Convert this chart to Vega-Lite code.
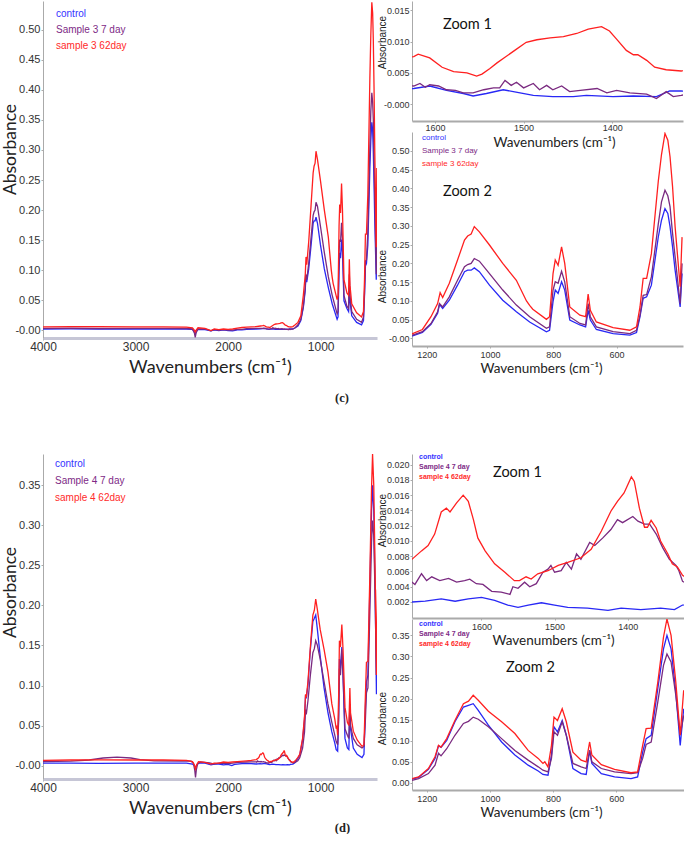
{
  "$schema": "https://vega.github.io/schema/vega-lite/v6.json",
  "background": "white",
  "padding": {"left": 1, "top": 1, "right": 0, "bottom": 0},
  "spacing": 48,
  "config": {
    "view": {"stroke": null},
    "axis": {"grid": false, "labelFont": "Liberation Sans", "labelColor": "#333", "domainColor": "#aaa", "tickColor": "#aaa", "tickSize": 2, "labelFlush": false, "labelOverlap": false, "labelBound": false, "titleFontWeight": "normal", "titleColor": "#222"},
    "legend": {"title": null, "orient": "none", "symbolSize": 0, "symbolOpacity": 0, "symbolStrokeWidth": 0, "labelOffset": 0, "padding": 0, "labelFont": "Liberation Sans", "labelLimit": 300,
               "labelColor": {"expr": "indexof(datum.label, 'control') >= 0 ? '#3333ff' : (indexof(datum.label, '62') >= 0 ? '#ff2a2a' : '#7e2a86')"}},
    "line": {"strokeWidth": 1.3, "clip": true}
  },
  "datasets": {
    "setC": [
      {"wn":4000,"abs":0.002,"series":"control"},{"wn":3700,"abs":0.0022,"series":"control"},{"wn":3400,"abs":0.0018,"series":"control"},{"wn":3000,"abs":0.002,"series":"control"},{"wn":2700,"abs":0.002,"series":"control"},{"wn":2450,"abs":0.0018,"series":"control"},{"wn":2385,"abs":0.0012,"series":"control"},{"wn":2365,"abs":-0.003,"series":"control"},{"wn":2355,"abs":-0.006,"series":"control"},{"wn":2345,"abs":-0.002,"series":"control"},{"wn":2325,"abs":0.0015,"series":"control"},{"wn":2250,"abs":0.001,"series":"control"},{"wn":2185,"abs":-0.001,"series":"control"},{"wn":2150,"abs":0.0005,"series":"control"},{"wn":2100,"abs":-0.0005,"series":"control"},{"wn":2050,"abs":0.0005,"series":"control"},{"wn":2000,"abs":-0.0005,"series":"control"},{"wn":1950,"abs":-0.001,"series":"control"},{"wn":1900,"abs":0.0005,"series":"control"},{"wn":1850,"abs":0.0005,"series":"control"},{"wn":1800,"abs":0.0015,"series":"control"},{"wn":1700,"abs":0.002,"series":"control"},{"wn":1650,"abs":0.0022,"series":"control"},
      {"wn":1624,"abs":0.0025,"series":"control"},{"wn":1606,"abs":0.0029,"series":"control"},{"wn":1587,"abs":0.0022,"series":"control"},{"wn":1568,"abs":0.0017,"series":"control"},{"wn":1557,"abs":0.0013,"series":"control"},{"wn":1542,"abs":0.0017,"series":"control"},{"wn":1523,"abs":0.0023,"series":"control"},{"wn":1504,"abs":0.0018,"series":"control"},{"wn":1489,"abs":0.0014,"series":"control"},{"wn":1467,"abs":0.0012,"series":"control"},{"wn":1444,"abs":0.0012,"series":"control"},{"wn":1429,"abs":0.0014,"series":"control"},{"wn":1399,"abs":0.0012,"series":"control"},{"wn":1376,"abs":0.0013,"series":"control"},{"wn":1350,"abs":0.0012,"series":"control"},{"wn":1335,"abs":0.0021,"series":"control"},{"wn":1322,"abs":0.0021,"series":"control"},{"wn":1300,"abs":0.002,"series":"control"},{"wn":1275,"abs":0.004,"series":"control"},
      {"wn":1245,"abs":0.007,"series":"control"},{"wn":1214,"abs":0.016,"series":"control"},{"wn":1187,"abs":0.038,"series":"control"},{"wn":1166,"abs":0.067,"series":"control"},{"wn":1160,"abs":0.091,"series":"control"},{"wn":1150,"abs":0.08,"series":"control"},{"wn":1129,"abs":0.102,"series":"control"},{"wn":1103,"abs":0.142,"series":"control"},{"wn":1081,"abs":0.178,"series":"control"},{"wn":1071,"abs":0.182,"series":"control"},{"wn":1060,"abs":0.182,"series":"control"},{"wn":1050,"abs":0.188,"series":"control"},{"wn":1034,"abs":0.178,"series":"control"},{"wn":1002,"abs":0.142,"series":"control"},{"wn":960,"abs":0.102,"series":"control"},{"wn":917,"abs":0.071,"series":"control"},{"wn":875,"abs":0.044,"series":"control"},{"wn":822,"abs":0.018,"series":"control"},{"wn":812,"abs":0.022,"series":"control"},{"wn":801,"abs":0.098,"series":"control"},{"wn":794,"abs":0.129,"series":"control"},{"wn":785,"abs":0.12,"series":"control"},{"wn":774,"abs":0.151,"series":"control"},{"wn":764,"abs":0.129,"series":"control"},{"wn":748,"abs":0.049,"series":"control"},{"wn":716,"abs":0.036,"series":"control"},{"wn":698,"abs":0.031,"series":"control"},{"wn":690,"abs":0.075,"series":"control"},{"wn":683,"abs":0.049,"series":"control"},{"wn":664,"abs":0.024,"series":"control"},{"wn":611,"abs":0.013,"series":"control"},{"wn":558,"abs":0.009,"series":"control"},{"wn":537,"abs":0.016,"series":"control"},{"wn":526,"abs":0.058,"series":"control"},{"wn":516,"abs":0.107,"series":"control"},{"wn":505,"abs":0.111,"series":"control"},{"wn":490,"abs":0.142,"series":"control"},{"wn":468,"abs":0.271,"series":"control"},{"wn":458,"abs":0.315,"series":"control"},{"wn":447,"abs":0.346,"series":"control"},{"wn":438,"abs":0.333,"series":"control"},{"wn":431,"abs":0.298,"series":"control"},{"wn":423,"abs":0.244,"series":"control"},{"wn":415,"abs":0.182,"series":"control"},{"wn":399,"abs":0.084,"series":"control"},{"wn":393,"abs":0.173,"series":"control"},

      {"wn":4000,"abs":0.003,"series":"Sample 3 7 day"},{"wn":3700,"abs":0.0032,"series":"Sample 3 7 day"},{"wn":3400,"abs":0.0028,"series":"Sample 3 7 day"},{"wn":3000,"abs":0.003,"series":"Sample 3 7 day"},{"wn":2700,"abs":0.003,"series":"Sample 3 7 day"},{"wn":2450,"abs":0.0028,"series":"Sample 3 7 day"},{"wn":2385,"abs":0.002,"series":"Sample 3 7 day"},{"wn":2365,"abs":-0.004,"series":"Sample 3 7 day"},{"wn":2355,"abs":-0.012,"series":"Sample 3 7 day"},{"wn":2345,"abs":-0.004,"series":"Sample 3 7 day"},{"wn":2325,"abs":0.002,"series":"Sample 3 7 day"},{"wn":2250,"abs":0.002,"series":"Sample 3 7 day"},{"wn":2185,"abs":-0.001,"series":"Sample 3 7 day"},{"wn":2150,"abs":0.001,"series":"Sample 3 7 day"},{"wn":2100,"abs":0.0,"series":"Sample 3 7 day"},{"wn":2050,"abs":0.001,"series":"Sample 3 7 day"},{"wn":2000,"abs":0.0,"series":"Sample 3 7 day"},{"wn":1950,"abs":0.0,"series":"Sample 3 7 day"},{"wn":1900,"abs":0.0015,"series":"Sample 3 7 day"},{"wn":1850,"abs":0.0015,"series":"Sample 3 7 day"},{"wn":1800,"abs":0.0025,"series":"Sample 3 7 day"},{"wn":1700,"abs":0.003,"series":"Sample 3 7 day"},{"wn":1650,"abs":0.003,"series":"Sample 3 7 day"},
      {"wn":1624,"abs":0.0029,"series":"Sample 3 7 day"},{"wn":1617,"abs":0.0033,"series":"Sample 3 7 day"},{"wn":1611,"abs":0.0027,"series":"Sample 3 7 day"},{"wn":1606,"abs":0.0031,"series":"Sample 3 7 day"},{"wn":1596,"abs":0.0029,"series":"Sample 3 7 day"},{"wn":1587,"abs":0.0023,"series":"Sample 3 7 day"},{"wn":1577,"abs":0.0022,"series":"Sample 3 7 day"},{"wn":1568,"abs":0.0018,"series":"Sample 3 7 day"},{"wn":1557,"abs":0.0018,"series":"Sample 3 7 day"},{"wn":1545,"abs":0.0023,"series":"Sample 3 7 day"},{"wn":1534,"abs":0.0026,"series":"Sample 3 7 day"},{"wn":1527,"abs":0.0026,"series":"Sample 3 7 day"},{"wn":1521,"abs":0.0038,"series":"Sample 3 7 day"},{"wn":1514,"abs":0.003,"series":"Sample 3 7 day"},{"wn":1508,"abs":0.0035,"series":"Sample 3 7 day"},{"wn":1500,"abs":0.0026,"series":"Sample 3 7 day"},{"wn":1489,"abs":0.0033,"series":"Sample 3 7 day"},{"wn":1482,"abs":0.0023,"series":"Sample 3 7 day"},{"wn":1474,"abs":0.003,"series":"Sample 3 7 day"},{"wn":1467,"abs":0.0023,"series":"Sample 3 7 day"},{"wn":1457,"abs":0.0029,"series":"Sample 3 7 day"},{"wn":1448,"abs":0.002,"series":"Sample 3 7 day"},{"wn":1436,"abs":0.0022,"series":"Sample 3 7 day"},{"wn":1417,"abs":0.0025,"series":"Sample 3 7 day"},{"wn":1406,"abs":0.0018,"series":"Sample 3 7 day"},{"wn":1395,"abs":0.0022,"series":"Sample 3 7 day"},{"wn":1380,"abs":0.0018,"series":"Sample 3 7 day"},{"wn":1361,"abs":0.0016,"series":"Sample 3 7 day"},{"wn":1350,"abs":0.0009,"series":"Sample 3 7 day"},{"wn":1339,"abs":0.002,"series":"Sample 3 7 day"},{"wn":1331,"abs":0.0012,"series":"Sample 3 7 day"},{"wn":1322,"abs":0.0014,"series":"Sample 3 7 day"},{"wn":1300,"abs":0.002,"series":"Sample 3 7 day"},{"wn":1275,"abs":0.004,"series":"Sample 3 7 day"},
      {"wn":1245,"abs":0.009,"series":"Sample 3 7 day"},{"wn":1214,"abs":0.018,"series":"Sample 3 7 day"},{"wn":1187,"abs":0.04,"series":"Sample 3 7 day"},{"wn":1166,"abs":0.071,"series":"Sample 3 7 day"},{"wn":1160,"abs":0.093,"series":"Sample 3 7 day"},{"wn":1150,"abs":0.084,"series":"Sample 3 7 day"},{"wn":1129,"abs":0.111,"series":"Sample 3 7 day"},{"wn":1103,"abs":0.155,"series":"Sample 3 7 day"},{"wn":1081,"abs":0.191,"series":"Sample 3 7 day"},{"wn":1071,"abs":0.197,"series":"Sample 3 7 day"},{"wn":1060,"abs":0.2,"series":"Sample 3 7 day"},{"wn":1050,"abs":0.213,"series":"Sample 3 7 day"},{"wn":1034,"abs":0.206,"series":"Sample 3 7 day"},{"wn":1002,"abs":0.173,"series":"Sample 3 7 day"},{"wn":960,"abs":0.129,"series":"Sample 3 7 day"},{"wn":917,"abs":0.089,"series":"Sample 3 7 day"},{"wn":875,"abs":0.058,"series":"Sample 3 7 day"},{"wn":822,"abs":0.027,"series":"Sample 3 7 day"},{"wn":812,"abs":0.031,"series":"Sample 3 7 day"},{"wn":801,"abs":0.129,"series":"Sample 3 7 day"},{"wn":794,"abs":0.151,"series":"Sample 3 7 day"},{"wn":785,"abs":0.147,"series":"Sample 3 7 day"},{"wn":774,"abs":0.179,"series":"Sample 3 7 day"},{"wn":764,"abs":0.151,"series":"Sample 3 7 day"},{"wn":748,"abs":0.058,"series":"Sample 3 7 day"},{"wn":716,"abs":0.04,"series":"Sample 3 7 day"},{"wn":698,"abs":0.036,"series":"Sample 3 7 day"},{"wn":690,"abs":0.093,"series":"Sample 3 7 day"},{"wn":683,"abs":0.058,"series":"Sample 3 7 day"},{"wn":664,"abs":0.031,"series":"Sample 3 7 day"},{"wn":611,"abs":0.018,"series":"Sample 3 7 day"},{"wn":558,"abs":0.013,"series":"Sample 3 7 day"},{"wn":537,"abs":0.022,"series":"Sample 3 7 day"},{"wn":526,"abs":0.062,"series":"Sample 3 7 day"},{"wn":516,"abs":0.115,"series":"Sample 3 7 day"},{"wn":505,"abs":0.117,"series":"Sample 3 7 day"},{"wn":490,"abs":0.164,"series":"Sample 3 7 day"},{"wn":468,"abs":0.306,"series":"Sample 3 7 day"},{"wn":458,"abs":0.364,"series":"Sample 3 7 day"},{"wn":447,"abs":0.395,"series":"Sample 3 7 day"},{"wn":438,"abs":0.38,"series":"Sample 3 7 day"},{"wn":431,"abs":0.351,"series":"Sample 3 7 day"},{"wn":423,"abs":0.28,"series":"Sample 3 7 day"},{"wn":415,"abs":0.218,"series":"Sample 3 7 day"},{"wn":399,"abs":0.093,"series":"Sample 3 7 day"},{"wn":393,"abs":0.2,"series":"Sample 3 7 day"},

      {"wn":4000,"abs":0.0055,"series":"sample 3 62day"},{"wn":3700,"abs":0.006,"series":"sample 3 62day"},{"wn":3400,"abs":0.0058,"series":"sample 3 62day"},{"wn":3000,"abs":0.0055,"series":"sample 3 62day"},{"wn":2700,"abs":0.0055,"series":"sample 3 62day"},{"wn":2450,"abs":0.005,"series":"sample 3 62day"},{"wn":2385,"abs":0.004,"series":"sample 3 62day"},{"wn":2365,"abs":0.0,"series":"sample 3 62day"},{"wn":2355,"abs":-0.003,"series":"sample 3 62day"},{"wn":2345,"abs":0.0,"series":"sample 3 62day"},{"wn":2325,"abs":0.004,"series":"sample 3 62day"},{"wn":2250,"abs":0.003,"series":"sample 3 62day"},{"wn":2185,"abs":-0.0005,"series":"sample 3 62day"},{"wn":2150,"abs":0.002,"series":"sample 3 62day"},{"wn":2100,"abs":0.001,"series":"sample 3 62day"},{"wn":2050,"abs":0.002,"series":"sample 3 62day"},{"wn":2000,"abs":0.0015,"series":"sample 3 62day"},{"wn":1950,"abs":0.002,"series":"sample 3 62day"},{"wn":1900,"abs":0.0035,"series":"sample 3 62day"},{"wn":1850,"abs":0.0045,"series":"sample 3 62day"},{"wn":1800,"abs":0.005,"series":"sample 3 62day"},{"wn":1700,"abs":0.006,"series":"sample 3 62day"},{"wn":1650,"abs":0.007,"series":"sample 3 62day"},
      {"wn":1624,"abs":0.0076,"series":"sample 3 62day"},{"wn":1619,"abs":0.008,"series":"sample 3 62day"},{"wn":1606,"abs":0.0074,"series":"sample 3 62day"},{"wn":1592,"abs":0.0059,"series":"sample 3 62day"},{"wn":1579,"abs":0.0052,"series":"sample 3 62day"},{"wn":1564,"abs":0.005,"series":"sample 3 62day"},{"wn":1553,"abs":0.0045,"series":"sample 3 62day"},{"wn":1547,"abs":0.0048,"series":"sample 3 62day"},{"wn":1538,"abs":0.0057,"series":"sample 3 62day"},{"wn":1530,"abs":0.0066,"series":"sample 3 62day"},{"wn":1521,"abs":0.0075,"series":"sample 3 62day"},{"wn":1510,"abs":0.0086,"series":"sample 3 62day"},{"wn":1497,"abs":0.0099,"series":"sample 3 62day"},{"wn":1485,"abs":0.0103,"series":"sample 3 62day"},{"wn":1470,"abs":0.0106,"series":"sample 3 62day"},{"wn":1455,"abs":0.0108,"series":"sample 3 62day"},{"wn":1440,"abs":0.0113,"series":"sample 3 62day"},{"wn":1427,"abs":0.012,"series":"sample 3 62day"},{"wn":1412,"abs":0.0124,"series":"sample 3 62day"},{"wn":1403,"abs":0.0117,"series":"sample 3 62day"},{"wn":1395,"abs":0.0104,"series":"sample 3 62day"},{"wn":1384,"abs":0.0086,"series":"sample 3 62day"},{"wn":1376,"abs":0.0079,"series":"sample 3 62day"},{"wn":1371,"abs":0.0079,"series":"sample 3 62day"},{"wn":1361,"abs":0.007,"series":"sample 3 62day"},{"wn":1352,"abs":0.0059,"series":"sample 3 62day"},{"wn":1339,"abs":0.0055,"series":"sample 3 62day"},{"wn":1322,"abs":0.0053,"series":"sample 3 62day"},{"wn":1300,"abs":0.006,"series":"sample 3 62day"},{"wn":1275,"abs":0.009,"series":"sample 3 62day"},
      {"wn":1245,"abs":0.013,"series":"sample 3 62day"},{"wn":1214,"abs":0.024,"series":"sample 3 62day"},{"wn":1187,"abs":0.058,"series":"sample 3 62day"},{"wn":1166,"abs":0.093,"series":"sample 3 62day"},{"wn":1158,"abs":0.122,"series":"sample 3 62day"},{"wn":1150,"abs":0.109,"series":"sample 3 62day"},{"wn":1129,"abs":0.147,"series":"sample 3 62day"},{"wn":1103,"abs":0.209,"series":"sample 3 62day"},{"wn":1081,"abs":0.262,"series":"sample 3 62day"},{"wn":1071,"abs":0.273,"series":"sample 3 62day"},{"wn":1060,"abs":0.278,"series":"sample 3 62day"},{"wn":1050,"abs":0.298,"series":"sample 3 62day"},{"wn":1034,"abs":0.284,"series":"sample 3 62day"},{"wn":1002,"abs":0.249,"series":"sample 3 62day"},{"wn":960,"abs":0.2,"series":"sample 3 62day"},{"wn":917,"abs":0.155,"series":"sample 3 62day"},{"wn":885,"abs":0.1,"series":"sample 3 62day"},{"wn":875,"abs":0.088,"series":"sample 3 62day"},{"wn":865,"abs":0.078,"series":"sample 3 62day"},{"wn":822,"abs":0.051,"series":"sample 3 62day"},{"wn":812,"abs":0.058,"series":"sample 3 62day"},{"wn":801,"abs":0.173,"series":"sample 3 62day"},{"wn":794,"abs":0.209,"series":"sample 3 62day"},{"wn":785,"abs":0.195,"series":"sample 3 62day"},{"wn":774,"abs":0.244,"series":"sample 3 62day"},{"wn":764,"abs":0.2,"series":"sample 3 62day"},{"wn":748,"abs":0.084,"series":"sample 3 62day"},{"wn":716,"abs":0.062,"series":"sample 3 62day"},{"wn":698,"abs":0.058,"series":"sample 3 62day"},{"wn":690,"abs":0.118,"series":"sample 3 62day"},{"wn":683,"abs":0.075,"series":"sample 3 62day"},{"wn":664,"abs":0.044,"series":"sample 3 62day"},{"wn":611,"abs":0.029,"series":"sample 3 62day"},{"wn":558,"abs":0.022,"series":"sample 3 62day"},{"wn":537,"abs":0.031,"series":"sample 3 62day"},{"wn":526,"abs":0.084,"series":"sample 3 62day"},{"wn":516,"abs":0.16,"series":"sample 3 62day"},{"wn":505,"abs":0.16,"series":"sample 3 62day"},{"wn":490,"abs":0.226,"series":"sample 3 62day"},{"wn":468,"abs":0.42,"series":"sample 3 62day"},{"wn":458,"abs":0.49,"series":"sample 3 62day"},{"wn":447,"abs":0.546,"series":"sample 3 62day"},{"wn":438,"abs":0.528,"series":"sample 3 62day"},{"wn":431,"abs":0.484,"series":"sample 3 62day"},{"wn":423,"abs":0.404,"series":"sample 3 62day"},{"wn":415,"abs":0.298,"series":"sample 3 62day"},{"wn":399,"abs":0.138,"series":"sample 3 62day"},{"wn":393,"abs":0.27,"series":"sample 3 62day"}
    ],
    "setD": [
      {"wn":4000,"abs":0.003,"series":"control"},{"wn":3700,"abs":0.003,"series":"control"},{"wn":3400,"abs":0.0028,"series":"control"},{"wn":3000,"abs":0.003,"series":"control"},{"wn":2700,"abs":0.003,"series":"control"},{"wn":2450,"abs":0.003,"series":"control"},{"wn":2385,"abs":0.002,"series":"control"},{"wn":2365,"abs":0.0,"series":"control"},{"wn":2352,"abs":-0.002,"series":"control"},{"wn":2340,"abs":0.0,"series":"control"},{"wn":2320,"abs":0.003,"series":"control"},{"wn":2250,"abs":0.003,"series":"control"},{"wn":2185,"abs":0.001,"series":"control"},{"wn":2150,"abs":0.002,"series":"control"},{"wn":2100,"abs":0.002,"series":"control"},{"wn":2050,"abs":0.001,"series":"control"},{"wn":2000,"abs":0.0015,"series":"control"},{"wn":1960,"abs":0.0,"series":"control"},{"wn":1930,"abs":0.0015,"series":"control"},{"wn":1850,"abs":0.0025,"series":"control"},{"wn":1750,"abs":0.0025,"series":"control"},
      {"wn":1695,"abs":0.002,"series":"control"},{"wn":1677,"abs":0.0021,"series":"control"},{"wn":1655,"abs":0.0024,"series":"control"},{"wn":1636,"abs":0.0021,"series":"control"},{"wn":1618,"abs":0.0024,"series":"control"},{"wn":1600,"abs":0.0026,"series":"control"},{"wn":1582,"abs":0.0022,"series":"control"},{"wn":1564,"abs":0.0016,"series":"control"},{"wn":1550,"abs":0.0013,"series":"control"},{"wn":1536,"abs":0.0016,"series":"control"},{"wn":1518,"abs":0.0019,"series":"control"},{"wn":1500,"abs":0.0016,"series":"control"},{"wn":1482,"abs":0.0013,"series":"control"},{"wn":1455,"abs":0.0012,"series":"control"},{"wn":1427,"abs":0.0009,"series":"control"},{"wn":1409,"abs":0.0012,"series":"control"},{"wn":1382,"abs":0.001,"series":"control"},{"wn":1355,"abs":0.0012,"series":"control"},{"wn":1336,"abs":0.001,"series":"control"},{"wn":1325,"abs":0.0016,"series":"control"},{"wn":1300,"abs":0.002,"series":"control"},{"wn":1275,"abs":0.004,"series":"control"},
      {"wn":1247,"abs":0.009,"series":"control"},{"wn":1226,"abs":0.013,"series":"control"},{"wn":1195,"abs":0.032,"series":"control"},{"wn":1174,"abs":0.058,"series":"control"},{"wn":1163,"abs":0.088,"series":"control"},{"wn":1155,"abs":0.084,"series":"control"},{"wn":1137,"abs":0.101,"series":"control"},{"wn":1111,"abs":0.145,"series":"control"},{"wn":1084,"abs":0.18,"series":"control"},{"wn":1068,"abs":0.184,"series":"control"},{"wn":1053,"abs":0.188,"series":"control"},{"wn":1037,"abs":0.172,"series":"control"},{"wn":1005,"abs":0.137,"series":"control"},{"wn":963,"abs":0.097,"series":"control"},{"wn":921,"abs":0.066,"series":"control"},{"wn":879,"abs":0.042,"series":"control"},{"wn":847,"abs":0.028,"series":"control"},{"wn":832,"abs":0.02,"series":"control"},{"wn":816,"abs":0.018,"series":"control"},{"wn":805,"abs":0.066,"series":"control"},{"wn":797,"abs":0.133,"series":"control"},{"wn":786,"abs":0.121,"series":"control"},{"wn":771,"abs":0.148,"series":"control"},{"wn":758,"abs":0.113,"series":"control"},{"wn":737,"abs":0.034,"series":"control"},{"wn":711,"abs":0.022,"series":"control"},{"wn":695,"abs":0.02,"series":"control"},{"wn":684,"abs":0.077,"series":"control"},{"wn":677,"abs":0.046,"series":"control"},{"wn":647,"abs":0.022,"series":"control"},{"wn":605,"abs":0.014,"series":"control"},{"wn":553,"abs":0.01,"series":"control"},{"wn":532,"abs":0.014,"series":"control"},{"wn":516,"abs":0.073,"series":"control"},{"wn":505,"abs":0.105,"series":"control"},{"wn":489,"abs":0.113,"series":"control"},{"wn":468,"abs":0.224,"series":"control"},{"wn":450,"abs":0.318,"series":"control"},{"wn":439,"abs":0.35,"series":"control"},{"wn":426,"abs":0.318,"series":"control"},{"wn":411,"abs":0.216,"series":"control"},{"wn":397,"abs":0.089,"series":"control"},{"wn":386,"abs":0.176,"series":"control"},

      {"wn":4000,"abs":0.005,"series":"Sample 4 7 day"},{"wn":3700,"abs":0.0055,"series":"Sample 4 7 day"},{"wn":3500,"abs":0.007,"series":"Sample 4 7 day"},{"wn":3350,"abs":0.0095,"series":"Sample 4 7 day"},{"wn":3200,"abs":0.0105,"series":"Sample 4 7 day"},{"wn":3050,"abs":0.0095,"series":"Sample 4 7 day"},{"wn":2950,"abs":0.0075,"series":"Sample 4 7 day"},{"wn":2800,"abs":0.006,"series":"Sample 4 7 day"},{"wn":2500,"abs":0.0058,"series":"Sample 4 7 day"},{"wn":2400,"abs":0.0055,"series":"Sample 4 7 day"},{"wn":2375,"abs":0.003,"series":"Sample 4 7 day"},{"wn":2360,"abs":-0.006,"series":"Sample 4 7 day"},{"wn":2352,"abs":-0.0146,"series":"Sample 4 7 day"},{"wn":2343,"abs":-0.005,"series":"Sample 4 7 day"},{"wn":2330,"abs":0.002,"series":"Sample 4 7 day"},{"wn":2300,"abs":0.0045,"series":"Sample 4 7 day"},{"wn":2200,"abs":0.0035,"series":"Sample 4 7 day"},{"wn":2150,"abs":0.002,"series":"Sample 4 7 day"},{"wn":2100,"abs":0.003,"series":"Sample 4 7 day"},{"wn":2000,"abs":0.0025,"series":"Sample 4 7 day"},{"wn":1950,"abs":0.003,"series":"Sample 4 7 day"},{"wn":1900,"abs":0.004,"series":"Sample 4 7 day"},{"wn":1800,"abs":0.0045,"series":"Sample 4 7 day"},{"wn":1750,"abs":0.0048,"series":"Sample 4 7 day"},
      {"wn":1695,"abs":0.0046,"series":"Sample 4 7 day"},{"wn":1691,"abs":0.0043,"series":"Sample 4 7 day"},{"wn":1682,"abs":0.0057,"series":"Sample 4 7 day"},{"wn":1675,"abs":0.0048,"series":"Sample 4 7 day"},{"wn":1668,"abs":0.0053,"series":"Sample 4 7 day"},{"wn":1657,"abs":0.0048,"series":"Sample 4 7 day"},{"wn":1645,"abs":0.0051,"series":"Sample 4 7 day"},{"wn":1634,"abs":0.0046,"series":"Sample 4 7 day"},{"wn":1623,"abs":0.0048,"series":"Sample 4 7 day"},{"wn":1616,"abs":0.005,"series":"Sample 4 7 day"},{"wn":1607,"abs":0.0044,"series":"Sample 4 7 day"},{"wn":1598,"abs":0.0043,"series":"Sample 4 7 day"},{"wn":1586,"abs":0.0034,"series":"Sample 4 7 day"},{"wn":1573,"abs":0.0033,"series":"Sample 4 7 day"},{"wn":1561,"abs":0.003,"series":"Sample 4 7 day"},{"wn":1557,"abs":0.004,"series":"Sample 4 7 day"},{"wn":1550,"abs":0.0038,"series":"Sample 4 7 day"},{"wn":1541,"abs":0.0046,"series":"Sample 4 7 day"},{"wn":1534,"abs":0.004,"series":"Sample 4 7 day"},{"wn":1525,"abs":0.0044,"series":"Sample 4 7 day"},{"wn":1516,"abs":0.0059,"series":"Sample 4 7 day"},{"wn":1509,"abs":0.0063,"series":"Sample 4 7 day"},{"wn":1505,"abs":0.0068,"series":"Sample 4 7 day"},{"wn":1500,"abs":0.0059,"series":"Sample 4 7 day"},{"wn":1491,"abs":0.0061,"series":"Sample 4 7 day"},{"wn":1484,"abs":0.0072,"series":"Sample 4 7 day"},{"wn":1477,"abs":0.0063,"series":"Sample 4 7 day"},{"wn":1470,"abs":0.0083,"series":"Sample 4 7 day"},{"wn":1464,"abs":0.0076,"series":"Sample 4 7 day"},{"wn":1452,"abs":0.0098,"series":"Sample 4 7 day"},{"wn":1445,"abs":0.0094,"series":"Sample 4 7 day"},{"wn":1434,"abs":0.0104,"series":"Sample 4 7 day"},{"wn":1423,"abs":0.0115,"series":"Sample 4 7 day"},{"wn":1414,"abs":0.0128,"series":"Sample 4 7 day"},{"wn":1407,"abs":0.0124,"series":"Sample 4 7 day"},{"wn":1393,"abs":0.0132,"series":"Sample 4 7 day"},{"wn":1386,"abs":0.0126,"series":"Sample 4 7 day"},{"wn":1377,"abs":0.0122,"series":"Sample 4 7 day"},{"wn":1370,"abs":0.0122,"series":"Sample 4 7 day"},{"wn":1361,"abs":0.0109,"series":"Sample 4 7 day"},{"wn":1352,"abs":0.0091,"series":"Sample 4 7 day"},{"wn":1343,"abs":0.0076,"series":"Sample 4 7 day"},{"wn":1334,"abs":0.0068,"series":"Sample 4 7 day"},{"wn":1330,"abs":0.0061,"series":"Sample 4 7 day"},{"wn":1325,"abs":0.0047,"series":"Sample 4 7 day"},{"wn":1300,"abs":0.0035,"series":"Sample 4 7 day"},{"wn":1275,"abs":0.004,"series":"Sample 4 7 day"},
      {"wn":1247,"abs":0.006,"series":"Sample 4 7 day"},{"wn":1226,"abs":0.01,"series":"Sample 4 7 day"},{"wn":1195,"abs":0.022,"series":"Sample 4 7 day"},{"wn":1174,"abs":0.042,"series":"Sample 4 7 day"},{"wn":1163,"abs":0.07,"series":"Sample 4 7 day"},{"wn":1155,"abs":0.064,"series":"Sample 4 7 day"},{"wn":1137,"abs":0.081,"series":"Sample 4 7 day"},{"wn":1111,"abs":0.113,"series":"Sample 4 7 day"},{"wn":1084,"abs":0.141,"series":"Sample 4 7 day"},{"wn":1068,"abs":0.146,"series":"Sample 4 7 day"},{"wn":1053,"abs":0.156,"series":"Sample 4 7 day"},{"wn":1037,"abs":0.151,"series":"Sample 4 7 day"},{"wn":1005,"abs":0.133,"series":"Sample 4 7 day"},{"wn":963,"abs":0.105,"series":"Sample 4 7 day"},{"wn":921,"abs":0.077,"series":"Sample 4 7 day"},{"wn":879,"abs":0.054,"series":"Sample 4 7 day"},{"wn":847,"abs":0.038,"series":"Sample 4 7 day"},{"wn":832,"abs":0.03,"series":"Sample 4 7 day"},{"wn":816,"abs":0.026,"series":"Sample 4 7 day"},{"wn":805,"abs":0.058,"series":"Sample 4 7 day"},{"wn":797,"abs":0.121,"series":"Sample 4 7 day"},{"wn":786,"abs":0.113,"series":"Sample 4 7 day"},{"wn":771,"abs":0.145,"series":"Sample 4 7 day"},{"wn":758,"abs":0.113,"series":"Sample 4 7 day"},{"wn":737,"abs":0.046,"series":"Sample 4 7 day"},{"wn":711,"abs":0.038,"series":"Sample 4 7 day"},{"wn":695,"abs":0.034,"series":"Sample 4 7 day"},{"wn":684,"abs":0.077,"series":"Sample 4 7 day"},{"wn":677,"abs":0.05,"series":"Sample 4 7 day"},{"wn":647,"abs":0.034,"series":"Sample 4 7 day"},{"wn":605,"abs":0.026,"series":"Sample 4 7 day"},{"wn":553,"abs":0.022,"series":"Sample 4 7 day"},{"wn":532,"abs":0.024,"series":"Sample 4 7 day"},{"wn":516,"abs":0.058,"series":"Sample 4 7 day"},{"wn":505,"abs":0.091,"series":"Sample 4 7 day"},{"wn":489,"abs":0.097,"series":"Sample 4 7 day"},{"wn":468,"abs":0.192,"series":"Sample 4 7 day"},{"wn":450,"abs":0.279,"series":"Sample 4 7 day"},{"wn":439,"abs":0.306,"series":"Sample 4 7 day"},{"wn":426,"abs":0.287,"series":"Sample 4 7 day"},{"wn":411,"abs":0.208,"series":"Sample 4 7 day"},{"wn":397,"abs":0.113,"series":"Sample 4 7 day"},{"wn":386,"abs":0.16,"series":"Sample 4 7 day"},

      {"wn":4000,"abs":0.0065,"series":"sample 4 62day"},{"wn":3700,"abs":0.007,"series":"sample 4 62day"},{"wn":3400,"abs":0.0072,"series":"sample 4 62day"},{"wn":3000,"abs":0.007,"series":"sample 4 62day"},{"wn":2700,"abs":0.007,"series":"sample 4 62day"},{"wn":2450,"abs":0.0065,"series":"sample 4 62day"},{"wn":2385,"abs":0.005,"series":"sample 4 62day"},{"wn":2365,"abs":0.001,"series":"sample 4 62day"},{"wn":2352,"abs":-0.004,"series":"sample 4 62day"},{"wn":2340,"abs":0.001,"series":"sample 4 62day"},{"wn":2320,"abs":0.005,"series":"sample 4 62day"},{"wn":2250,"abs":0.004,"series":"sample 4 62day"},{"wn":2185,"abs":0.002,"series":"sample 4 62day"},{"wn":2150,"abs":0.003,"series":"sample 4 62day"},{"wn":2100,"abs":0.003,"series":"sample 4 62day"},{"wn":2050,"abs":0.0045,"series":"sample 4 62day"},{"wn":2000,"abs":0.004,"series":"sample 4 62day"},{"wn":1950,"abs":0.0045,"series":"sample 4 62day"},{"wn":1900,"abs":0.005,"series":"sample 4 62day"},{"wn":1800,"abs":0.006,"series":"sample 4 62day"},{"wn":1750,"abs":0.0065,"series":"sample 4 62day"},
      {"wn":1695,"abs":0.0076,"series":"sample 4 62day"},{"wn":1682,"abs":0.0087,"series":"sample 4 62day"},{"wn":1673,"abs":0.0094,"series":"sample 4 62day"},{"wn":1664,"abs":0.0109,"series":"sample 4 62day"},{"wn":1655,"abs":0.0138,"series":"sample 4 62day"},{"wn":1648,"abs":0.0143,"series":"sample 4 62day"},{"wn":1643,"abs":0.0138,"series":"sample 4 62day"},{"wn":1634,"abs":0.015,"series":"sample 4 62day"},{"wn":1625,"abs":0.016,"series":"sample 4 62day"},{"wn":1618,"abs":0.0152,"series":"sample 4 62day"},{"wn":1611,"abs":0.0128,"series":"sample 4 62day"},{"wn":1605,"abs":0.0104,"series":"sample 4 62day"},{"wn":1595,"abs":0.0087,"series":"sample 4 62day"},{"wn":1582,"abs":0.007,"series":"sample 4 62day"},{"wn":1568,"abs":0.0059,"series":"sample 4 62day"},{"wn":1555,"abs":0.0048,"series":"sample 4 62day"},{"wn":1548,"abs":0.0048,"series":"sample 4 62day"},{"wn":1539,"abs":0.0053,"series":"sample 4 62day"},{"wn":1532,"abs":0.005,"series":"sample 4 62day"},{"wn":1523,"abs":0.0057,"series":"sample 4 62day"},{"wn":1509,"abs":0.0061,"series":"sample 4 62day"},{"wn":1495,"abs":0.0068,"series":"sample 4 62day"},{"wn":1482,"abs":0.0072,"series":"sample 4 62day"},{"wn":1464,"abs":0.0078,"series":"sample 4 62day"},{"wn":1450,"abs":0.0089,"series":"sample 4 62day"},{"wn":1436,"abs":0.0113,"series":"sample 4 62day"},{"wn":1423,"abs":0.0139,"series":"sample 4 62day"},{"wn":1414,"abs":0.0152,"series":"sample 4 62day"},{"wn":1405,"abs":0.0163,"series":"sample 4 62day"},{"wn":1395,"abs":0.0184,"series":"sample 4 62day"},{"wn":1391,"abs":0.0178,"series":"sample 4 62day"},{"wn":1384,"abs":0.0143,"series":"sample 4 62day"},{"wn":1377,"abs":0.0118,"series":"sample 4 62day"},{"wn":1373,"abs":0.0118,"series":"sample 4 62day"},{"wn":1368,"abs":0.0127,"series":"sample 4 62day"},{"wn":1361,"abs":0.0117,"series":"sample 4 62day"},{"wn":1355,"abs":0.01,"series":"sample 4 62day"},{"wn":1345,"abs":0.0083,"series":"sample 4 62day"},{"wn":1339,"abs":0.007,"series":"sample 4 62day"},{"wn":1332,"abs":0.0066,"series":"sample 4 62day"},{"wn":1325,"abs":0.0055,"series":"sample 4 62day"},{"wn":1300,"abs":0.004,"series":"sample 4 62day"},{"wn":1275,"abs":0.006,"series":"sample 4 62day"},
      {"wn":1247,"abs":0.01,"series":"sample 4 62day"},{"wn":1226,"abs":0.014,"series":"sample 4 62day"},{"wn":1195,"abs":0.034,"series":"sample 4 62day"},{"wn":1174,"abs":0.062,"series":"sample 4 62day"},{"wn":1163,"abs":0.089,"series":"sample 4 62day"},{"wn":1155,"abs":0.085,"series":"sample 4 62day"},{"wn":1137,"abs":0.105,"series":"sample 4 62day"},{"wn":1111,"abs":0.148,"series":"sample 4 62day"},{"wn":1084,"abs":0.188,"series":"sample 4 62day"},{"wn":1068,"abs":0.194,"series":"sample 4 62day"},{"wn":1053,"abs":0.208,"series":"sample 4 62day"},{"wn":1037,"abs":0.196,"series":"sample 4 62day"},{"wn":1005,"abs":0.17,"series":"sample 4 62day"},{"wn":963,"abs":0.145,"series":"sample 4 62day"},{"wn":921,"abs":0.117,"series":"sample 4 62day"},{"wn":879,"abs":0.077,"series":"sample 4 62day"},{"wn":847,"abs":0.058,"series":"sample 4 62day"},{"wn":832,"abs":0.046,"series":"sample 4 62day"},{"wn":826,"abs":0.05,"series":"sample 4 62day"},{"wn":816,"abs":0.038,"series":"sample 4 62day"},{"wn":805,"abs":0.089,"series":"sample 4 62day"},{"wn":797,"abs":0.156,"series":"sample 4 62day"},{"wn":786,"abs":0.148,"series":"sample 4 62day"},{"wn":771,"abs":0.176,"series":"sample 4 62day"},{"wn":758,"abs":0.145,"series":"sample 4 62day"},{"wn":737,"abs":0.073,"series":"sample 4 62day"},{"wn":711,"abs":0.054,"series":"sample 4 62day"},{"wn":695,"abs":0.05,"series":"sample 4 62day"},{"wn":684,"abs":0.097,"series":"sample 4 62day"},{"wn":677,"abs":0.066,"series":"sample 4 62day"},{"wn":647,"abs":0.043,"series":"sample 4 62day"},{"wn":605,"abs":0.032,"series":"sample 4 62day"},{"wn":553,"abs":0.024,"series":"sample 4 62day"},{"wn":532,"abs":0.026,"series":"sample 4 62day"},{"wn":516,"abs":0.089,"series":"sample 4 62day"},{"wn":505,"abs":0.129,"series":"sample 4 62day"},{"wn":489,"abs":0.13,"series":"sample 4 62day"},{"wn":468,"abs":0.239,"series":"sample 4 62day"},{"wn":450,"abs":0.346,"series":"sample 4 62day"},{"wn":439,"abs":0.389,"series":"sample 4 62day"},{"wn":426,"abs":0.35,"series":"sample 4 62day"},{"wn":411,"abs":0.239,"series":"sample 4 62day"},{"wn":397,"abs":0.113,"series":"sample 4 62day"},{"wn":386,"abs":0.22,"series":"sample 4 62day"}
    ]
  },
  "resolve": {"scale": {"color": "independent"}, "legend": {"color": "independent"}},
  "vconcat": [
    {
      "spacing": 0,
      "resolve": {"scale": {"color": "independent"}, "legend": {"color": "independent"}},
      "title": {"text": "(c)", "orient": "bottom", "anchor": "middle", "offset": 16, "font": "Liberation Serif", "fontSize": 12.5, "fontWeight": "bold", "color": "#222"},
      "hconcat": [
        {
          "width": 334, "height": 337,
          "data": {"name": "setC"},
          "mark": {"type": "line", "strokeWidth": 1.3, "clip": true},
          "encoding": {
            "x": {"field": "wn", "type": "quantitative", "scale": {"domain": [391, 4000], "reverse": true, "nice": false, "zero": false},
                  "axis": {"values": [4000, 3000, 2000, 1000], "format": "d", "title": "Wavenumbers (cm⁻¹)", "labelFontSize": 12, "labelPadding": 1, "domainColor": "#c6c6d6", "domainWidth": 3, "titleFont": "Lato", "titleFontSize": 18, "titlePadding": 6}},
            "y": {"field": "abs", "type": "quantitative", "scale": {"domain": [-0.013, 0.548], "nice": false, "zero": false},
                  "axis": {"values": [0, 0.05, 0.1, 0.15, 0.2, 0.25, 0.3, 0.35, 0.4, 0.45, 0.5], "labelExpr": "datum.value == 0 ? '-0.00' : format(datum.value, '.2f')", "title": "Absorbance", "labelFontSize": 11, "labelPadding": 1, "titleFont": "Lato", "titleFontSize": 17.5, "titleX": -24, "titleY": 148}},
            "color": {"field": "series", "type": "nominal",
                      "scale": {"domain": ["control", "Sample 3 7 day", "sample 3 62day"], "range": ["#2828f5", "#7a2a80", "#ff2020"]},
                      "legend": {"legendX": 3, "legendY": 8, "labelFontSize": 10, "rowPadding": 6}}
          }
        },
        {
          "bounds": "flush",
          "spacing": 11,
          "resolve": {"scale": {"color": "independent"}, "legend": {"color": "independent"}},
          "vconcat": [
            {
              "width": 271, "height": 120,
              "title": {"text": "Zoom 1", "anchor": "start", "frame": "group", "orient": "top", "offset": 0, "dx": 31, "dy": 38, "baseline": "middle", "font": "Lato", "fontSize": 14.5, "fontWeight": "normal", "color": "#111"},
              "data": {"name": "setC"},
              "mark": {"type": "line", "strokeWidth": 1.3, "clip": true},
              "encoding": {
                "x": {"field": "wn", "type": "quantitative", "scale": {"domain": [1320, 1626], "reverse": true, "nice": false, "zero": false},
                      "axis": {"values": [1600, 1500, 1400], "format": "d", "title": "Wavenumbers (cm⁻¹)", "labelFontSize": 9, "labelPadding": 0, "domainWidth": 2, "titleFont": "Lato", "titleFontSize": 13.5, "titlePadding": 3, "titleX": 142}},
                "y": {"field": "abs", "type": "quantitative", "scale": {"domain": [-0.0027, 0.0165], "nice": false, "zero": false},
                      "axis": {"values": [0, 0.005, 0.01, 0.015], "labelExpr": "datum.value == 0 ? '-0.000' : format(datum.value, '.3f')", "title": "Absorbance", "labelFontSize": 9, "labelPadding": 1, "titleFont": "Liberation Sans", "titleFontSize": 10, "titleX": -25, "titleY": 41}},
                "color": {"field": "series", "type": "nominal",
                          "scale": {"domain": ["control", "Sample 3 7 day", "sample 3 62day"], "range": ["#2828f5", "#7a2a80", "#ff2020"]},
                          "legend": null}
              }
            },
            {
              "width": 271, "height": 214,
              "title": {"text": "Zoom 2", "anchor": "start", "frame": "group", "orient": "top", "offset": 0, "dx": 31, "dy": 74, "baseline": "middle", "font": "Lato", "fontSize": 14.5, "fontWeight": "normal", "color": "#111"},
              "data": {"name": "setC"},
              "mark": {"type": "line", "strokeWidth": 1.3, "clip": true},
              "encoding": {
                "x": {"field": "wn", "type": "quantitative", "scale": {"domain": [390, 1247], "reverse": true, "nice": false, "zero": false},
                      "axis": {"values": [1200, 1000, 800, 600], "format": "d", "title": "Wavenumbers (cm⁻¹)", "labelFontSize": 9, "labelPadding": 2, "domainWidth": 2, "titleFont": "Lato", "titleFontSize": 13.5, "titlePadding": 2, "titleX": 129}},
                "y": {"field": "abs", "type": "quantitative", "scale": {"domain": [-0.02, 0.55], "nice": false, "zero": false},
                      "axis": {"values": [0, 0.05, 0.1, 0.15, 0.2, 0.25, 0.3, 0.35, 0.4, 0.45, 0.5], "labelExpr": "datum.value == 0 ? '-0.00' : format(datum.value, '.2f')", "title": "Absorbance", "labelFontSize": 9, "labelPadding": 1, "titleFont": "Liberation Sans", "titleFontSize": 10, "titleX": -25, "titleY": 144}},
                "color": {"field": "series", "type": "nominal",
                          "scale": {"domain": ["control", "Sample 3 7 day", "sample 3 62day"], "range": ["#2828f5", "#7a2a80", "#ff2020"]},
                          "legend": {"legendX": 2, "legendY": 1.5, "labelFontSize": 8, "rowPadding": 5}}
              }
            }
          ]
        }
      ]
    },
    {
      "spacing": 0,
      "resolve": {"scale": {"color": "independent"}, "legend": {"color": "independent"}},
      "title": {"text": "(d)", "orient": "bottom", "anchor": "middle", "offset": 3, "font": "Liberation Serif", "fontSize": 12.5, "fontWeight": "bold", "color": "#222"},
      "hconcat": [
        {
          "width": 334, "height": 325,
          "data": {"name": "setD"},
          "mark": {"type": "line", "strokeWidth": 1.3, "clip": true},
          "encoding": {
            "x": {"field": "wn", "type": "quantitative", "scale": {"domain": [391, 4000], "reverse": true, "nice": false, "zero": false},
                  "axis": {"values": [4000, 3000, 2000, 1000], "format": "d", "title": "Wavenumbers (cm⁻¹)", "labelFontSize": 12, "labelPadding": 1, "domainColor": "#c6c6d6", "domainWidth": 3, "titleFont": "Lato", "titleFontSize": 18, "titlePadding": 6}},
            "y": {"field": "abs", "type": "quantitative", "scale": {"domain": [-0.0167, 0.389], "nice": false, "zero": false},
                  "axis": {"values": [0, 0.05, 0.1, 0.15, 0.2, 0.25, 0.3, 0.35], "labelExpr": "datum.value == 0 ? '-0.00' : format(datum.value, '.2f')", "title": "Absorbance", "labelFontSize": 11, "labelPadding": 1, "titleFont": "Lato", "titleFontSize": 17.5, "titleX": -24, "titleY": 138}},
            "color": {"field": "series", "type": "nominal",
                      "scale": {"domain": ["control", "Sample 4 7 day", "sample 4 62day"], "range": ["#2828f5", "#7a2a80", "#ff2020"]},
                      "legend": {"legendX": 2, "legendY": 5, "labelFontSize": 10, "rowPadding": 7}}
          }
        },
        {
          "bounds": "flush",
          "spacing": 1,
          "resolve": {"scale": {"color": "independent"}, "legend": {"color": "independent"}},
          "vconcat": [
            {
              "width": 272, "height": 164,
              "title": {"text": "Zoom 1", "anchor": "start", "frame": "group", "orient": "top", "offset": 0, "dx": 81, "dy": 34, "baseline": "middle", "font": "Lato", "fontSize": 14.5, "fontWeight": "normal", "color": "#111"},
              "data": {"name": "setD"},
              "mark": {"type": "line", "strokeWidth": 1.3, "clip": true},
              "encoding": {
                "x": {"field": "wn", "type": "quantitative", "scale": {"domain": [1323, 1695], "reverse": true, "nice": false, "zero": false},
                      "axis": {"values": [1600, 1500, 1400], "format": "d", "title": "Wavenumbers (cm⁻¹)", "labelFontSize": 9, "labelPadding": 2, "domainWidth": 2, "titleFont": "Lato", "titleFontSize": 13.5, "titlePadding": 2, "titleX": 141}},
                "y": {"field": "abs", "type": "quantitative", "scale": {"domain": [-0.0001, 0.0214], "nice": false, "zero": false},
                      "axis": {"values": [0.002, 0.004, 0.006, 0.008, 0.01, 0.012, 0.014, 0.016, 0.018, 0.02], "format": ".3f", "title": "Absorbance", "labelFontSize": 9, "labelPadding": 1, "titleFont": "Liberation Sans", "titleFontSize": 10, "titleX": -25, "titleY": 66}},
                "color": {"field": "series", "type": "nominal",
                          "scale": {"domain": ["control", "Sample 4 7 day", "sample 4 62day"], "range": ["#2828f5", "#7a2a80", "#ff2020"]},
                          "legend": {"legendX": 0, "legendY": -1, "labelFontSize": 7, "rowPadding": 2, "labelFontWeight": "bold"}}
              }
            },
            {
              "width": 272, "height": 171,
              "title": {"text": "Zoom 2", "anchor": "start", "frame": "group", "orient": "top", "offset": 0, "dx": 94, "dy": 63, "baseline": "middle", "font": "Lato", "fontSize": 14.5, "fontWeight": "normal", "color": "#111"},
              "data": {"name": "setD"},
              "mark": {"type": "line", "strokeWidth": 1.3, "clip": true},
              "encoding": {
                "x": {"field": "wn", "type": "quantitative", "scale": {"domain": [385, 1247], "reverse": true, "nice": false, "zero": false},
                      "axis": {"values": [1200, 1000, 800, 600], "format": "d", "title": "Wavenumbers (cm⁻¹)", "labelFontSize": 9, "labelPadding": 2, "domainWidth": 2, "titleFont": "Lato", "titleFontSize": 13.5, "titlePadding": 2, "titleX": 129}},
                "y": {"field": "abs", "type": "quantitative", "scale": {"domain": [-0.017, 0.389], "nice": false, "zero": false},
                      "axis": {"values": [0, 0.05, 0.1, 0.15, 0.2, 0.25, 0.3, 0.35], "format": ".2f", "title": "Absorbance", "labelFontSize": 9, "labelPadding": 1, "titleFont": "Liberation Sans", "titleFontSize": 10, "titleX": -25, "titleY": 99}},
                "color": {"field": "series", "type": "nominal",
                          "scale": {"domain": ["control", "Sample 4 7 day", "sample 4 62day"], "range": ["#2828f5", "#7a2a80", "#ff2020"]},
                          "legend": {"legendX": 0, "legendY": 1, "labelFontSize": 7, "rowPadding": 2, "labelFontWeight": "bold"}}
              }
            }
          ]
        }
      ]
    }
  ]
}
